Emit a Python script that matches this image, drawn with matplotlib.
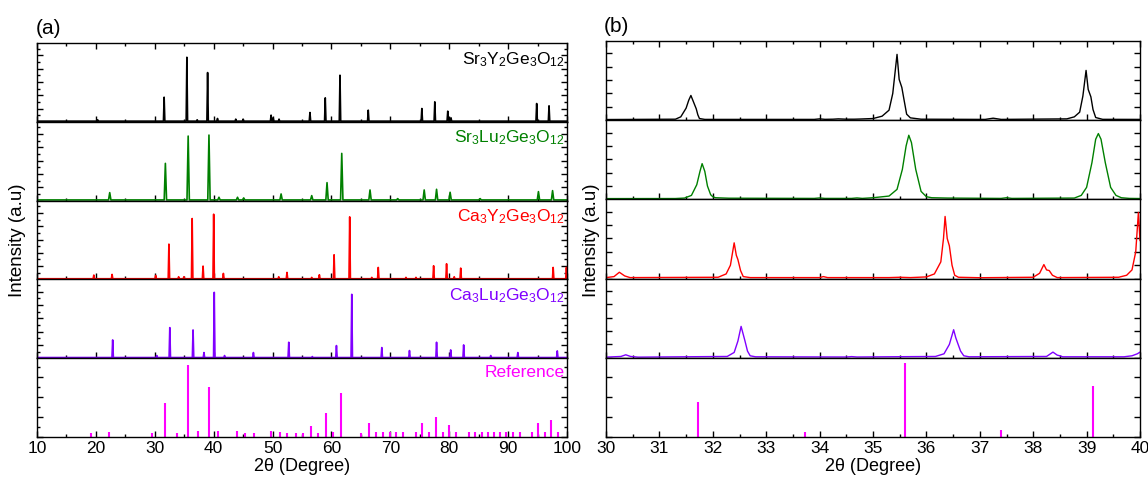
import matplotlib
matplotlib.use("Agg")
import matplotlib.pyplot as plt
from matplotlib.ticker import MultipleLocator, NullLocator

plt.rcParams['font.family'] = ['Liberation Sans', 'DejaVu Sans']
plt.rcParams['mathtext.fontset'] = 'custom'
plt.rcParams['mathtext.rm'] = 'Liberation Sans'
plt.rcParams['axes.linewidth'] = 1.0

# sample names and colours, top to bottom
names = [r'$\mathregular{Sr_3Y_2Ge_3O_{12}}$', r'$\mathregular{Sr_3Lu_2Ge_3O_{12}}$',
         r'$\mathregular{Ca_3Y_2Ge_3O_{12}}$', r'$\mathregular{Ca_3Lu_2Ge_3O_{12}}$', 'Reference']
colors = ['#000000', '#008000', '#ff0000', '#8000ff', '#ff00ff']

# ---- (a) full scans: peak positions (2theta) and heights
sr_y_pos = [20.3, 31.59, 35.45, 37.2, 38.97, 40.65, 43.75, 45.0, 49.75, 50.1, 51.1, 56.35,
            58.95, 61.45, 66.25, 75.35, 77.55, 79.75, 80.3, 94.85, 96.95]
sr_y_int = [2, 36, 96, 2, 73, 4, 3, 3, 9, 5, 3, 13, 35, 69, 16.5, 19, 29, 15, 5, 26.5, 23]

sr_lu_pos = [22.35, 31.8, 35.67, 39.2, 40.9, 44.05, 45.1, 51.45, 56.65, 59.25, 61.75, 66.55,
             71.25, 75.75, 77.85, 80.15, 85.25, 95.15, 97.55]
sr_lu_int = [11, 55, 96, 97.5, 4, 4, 3, 9, 6.5, 26, 70, 15, 2, 15, 16, 11.5, 2, 12.5, 14]

ca_y_pos = [19.65, 22.75, 30.15, 32.4, 34.05, 34.95, 36.35, 38.2, 40.0, 41.65, 51.05, 52.45,
            56.65, 57.95, 60.45, 63.1, 66.85, 67.95, 72.65, 74.35, 77.35, 79.55, 80.85, 81.95,
            97.65, 99.9]
ca_y_int = [5.5, 6.5, 5, 52, 3, 3, 90.5, 19, 97, 8, 3, 9.5, 2, 6, 36, 93, 2, 17, 2, 2, 19.5,
            22.5, 3, 16, 17, 17]

ca_lu_pos = [22.85, 30.35, 32.55, 36.5, 38.35, 40.1, 41.85, 46.75, 52.75, 56.75, 60.85, 63.45,
             68.55, 73.25, 77.85, 80.25, 82.45, 87.05, 91.65, 98.35]
ca_lu_int = [26.5, 3, 45, 41.5, 7.5, 98, 3, 7.5, 23, 1.5, 18, 95, 15, 10.5, 23, 11.5, 19, 3,
             7.5, 10]

ref_pos = [19.2, 22.2, 29.6, 31.75, 33.72, 35.6, 37.4, 39.13, 40.8, 43.9, 45.4, 46.9, 49.8,
           51.2, 52.5, 53.9, 55.2, 56.5, 57.8, 59.0, 60.3, 61.6, 65.1, 66.3, 67.6, 68.7, 70.0,
           71.0, 72.2, 74.4, 75.4, 76.6, 77.7, 78.9, 80.0, 81.1, 83.3, 84.3, 85.5, 86.5, 87.6,
           88.7, 89.7, 90.9, 92.0, 94.0, 95.1, 96.2, 97.3, 98.4]
ref_int = [6, 7, 6, 51, 6, 108, 8.5, 75, 9.5, 9.5, 6, 6, 8.5, 7.5, 6, 6, 6, 16, 6, 36, 7, 66,
           6, 21, 7, 7, 7, 7, 7, 7, 21, 7, 30, 7, 18.5, 7, 7, 7, 7, 7, 7, 7, 7, 7, 7, 7, 21, 7,
           26, 7]

# ---- (b) 30-40 degree traces
sr_y_bx = [30.0, 31.3, 31.4, 31.5, 31.55, 31.59, 31.63, 31.69, 31.72, 31.75, 31.85, 33.9, 34.0,
           34.1, 34.25, 34.35, 34.5, 34.65, 34.77, 35.0, 35.17, 35.3, 35.37, 35.45, 35.49, 35.54,
           35.58, 35.63, 35.7, 35.9, 37.1, 37.25, 37.4, 38.63, 38.77, 38.87, 38.93, 38.99, 39.03,
           39.08, 39.12, 39.17, 39.3, 40.0]
sr_y_by = [1, 1.5, 5, 18, 30, 37, 29, 17, 8, 2.5, 1.2, 1.2, 2, 1.3, 1.5, 2, 1.5, 1.5, 1.8, 2.5,
           6, 15, 40, 98.5, 61, 49, 31, 9, 3.5, 1.5, 1.2, 3, 1.2, 2, 5, 12, 36, 74.5, 46, 35, 16,
           4, 1.3, 1.2]

sr_lu_bx = [30.0, 31.3, 31.47, 31.6, 31.7, 31.76, 31.8, 31.85, 31.9, 31.96, 32.0, 32.05, 32.3,
            33.9, 34.0, 34.1, 34.6, 34.7, 34.8, 35.0, 35.3, 35.45, 35.55, 35.62, 35.67, 35.72,
            35.8, 35.9, 36.0, 36.1, 36.4, 37.4, 37.5, 37.6, 38.77, 38.9, 39.0, 39.1, 39.17, 39.22,
            39.27, 39.35, 39.45, 39.55, 39.65, 39.8, 40.0]
sr_lu_by = [1.2, 1.3, 2, 6, 22, 42, 53.5, 42, 20, 7, 4, 2.5, 1.8, 1.5, 2.2, 1.5, 1.5, 2.2, 1.5,
            2.5, 5, 15, 45, 80, 96, 85, 45, 12, 4, 2.5, 2, 1.5, 2.5, 1.5, 2, 6, 18, 55, 90, 98.5,
            90, 55, 18, 6, 2.5, 1.5, 1.3]

ca_y_bx = [30.0, 30.15, 30.25, 30.35, 30.45, 32.1, 32.25, 32.33, 32.4, 32.44, 32.47, 32.52,
           32.57, 32.7, 34.0, 34.07, 34.15, 35.3, 35.5, 35.7, 36.0, 36.15, 36.27, 36.32, 36.35,
           36.39, 36.43, 36.48, 36.53, 36.6, 37.0, 38.0, 38.12, 38.2, 38.25, 38.3, 38.36, 38.45,
           39.6, 39.75, 39.85, 39.92, 39.97, 40.0]
ca_y_by = [1.5, 3, 9.5, 4, 1.5, 2, 7, 20, 53.5, 35, 28.5, 12, 3, 1.5, 1.5, 3, 1.5, 1.5, 2, 1.5,
           2.5, 7, 25, 60, 93, 60, 49, 20, 5, 2, 1.3, 2, 8, 21, 13, 12, 5, 1.5, 2, 5, 13, 40, 99,
           57]

ca_lu_bx = [30.0, 30.28, 30.37, 30.46, 30.6, 32.27, 32.4, 32.47, 32.53, 32.57, 32.6, 32.65,
            32.7, 32.8, 34.5, 34.6, 34.7, 36.17, 36.33, 36.43, 36.51, 36.55, 36.59, 36.64, 36.7,
            36.8, 38.25, 38.37, 38.45, 38.5, 38.55, 39.7, 39.85, 39.95, 40.0]
ca_lu_by = [1, 2, 4.5, 2, 1, 2, 8, 25, 47, 35, 26, 10, 3, 1.5, 1.2, 1.8, 1.2, 2, 6, 20, 42, 30,
            21, 10, 3, 1.5, 2, 8.5, 4, 3, 1.5, 1.5, 3, 6, 8.5]

ref_b_pos = [31.73, 33.72, 35.6, 37.4, 39.12]
ref_b_int = [52, 7.5, 110, 10, 76]


def spikes(pos, inten, w, lo, hi, base=1.0):
    # narrow spike for every listed peak, joined by a flat baseline
    x, y = [lo], [base]
    for p, h in zip(pos, inten):
        x += [p - w, p, p + w]
        y += [base, base + h, base]
    x.append(hi)
    y.append(base)
    return x, y


def style(ax, xmaj, xmin, ymaj, ymin, top=False):
    ax.xaxis.set_major_locator(MultipleLocator(xmaj))
    ax.xaxis.set_minor_locator(MultipleLocator(xmin))
    ax.yaxis.set_major_locator(MultipleLocator(ymaj))
    ax.yaxis.set_minor_locator(MultipleLocator(ymin) if ymin else NullLocator())
    ax.tick_params(which='both', direction='in', top=top, right=True,
                   labelleft=False, labelbottom=False, width=1, labelsize=12.5, pad=3)
    ax.tick_params(which='major', length=4.5)
    ax.tick_params(which='minor', length=2.5)
    ax.set_ylim(0, 118.5)


fig = plt.figure(figsize=(11.48, 4.79), dpi=100)
W, H = 1148, 479


def make_axes(left, right, top, bottom):
    h = (bottom - top) / 5
    axs = []
    for i in range(5):
        y0 = 1 - (top + (i + 1) * h) / H
        axs.append(fig.add_axes([left / W, y0, (right - left) / W, h / H]))
    return axs


# ---- panel (a)
axa = make_axes(37, 567, 43, 437)
a_pos = [sr_y_pos, sr_lu_pos, ca_y_pos, ca_lu_pos]
a_int = [sr_y_int, sr_lu_int, ca_y_int, ca_lu_int]
a_w = [0.12, 0.2, 0.12, 0.12]
for i, ax in enumerate(axa):
    if i < 4:
        x, y = spikes(a_pos[i], a_int[i], a_w[i], 10, 100)
        ax.plot(x, y, color=colors[i], lw=1.2)
        style(ax, 10, 5, 20, 10, top=(i == 0))
    else:
        ax.vlines(ref_pos, 0, ref_int, color=colors[i], lw=1.5)
        style(ax, 10, 5, 30, 15)
    ax.set_xlim(10, 100)
    ax.text(0.996, 1 - 7 / 79, names[i], transform=ax.transAxes, ha='right', va='top',
            color=colors[i], fontsize=12.5)
axa[-1].tick_params(labelbottom=True)
axa[-1].set_xlabel('2θ (Degree)', fontsize=13, labelpad=1)

# ---- panel (b)
axb = make_axes(606, 1140, 41, 437)
b_x = [sr_y_bx, sr_lu_bx, ca_y_bx, ca_lu_bx]
b_y = [sr_y_by, sr_lu_by, ca_y_by, ca_lu_by]
for i, ax in enumerate(axb):
    if i < 4:
        ax.plot(b_x[i], b_y[i], color=colors[i], lw=1.0)
        style(ax, 1, 0.5, 20, None, top=(i == 0))
    else:
        ax.vlines(ref_b_pos, 0, ref_b_int, color=colors[i], lw=1.5)
        style(ax, 1, 0.5, 30, None)
    ax.set_xlim(30, 40)
axb[-1].tick_params(labelbottom=True)
axb[-1].set_xlabel('2θ (Degree)', fontsize=13, labelpad=1)

fig.text(36 / W, 1 - 28 / H, '(a)', fontsize=15, ha='left', va='center')
fig.text(604 / W, 1 - 26 / H, '(b)', fontsize=15, ha='left', va='center')
fig.text(18 / W, 1 - 240 / H, 'Intensity (a.u)', rotation=90, fontsize=13.5,
         ha='center', va='center')
fig.text(591 / W, 1 - 240 / H, 'Intensity (a.u)', rotation=90, fontsize=13.5,
         ha='center', va='center')

fig.savefig('out.png', dpi=100)
